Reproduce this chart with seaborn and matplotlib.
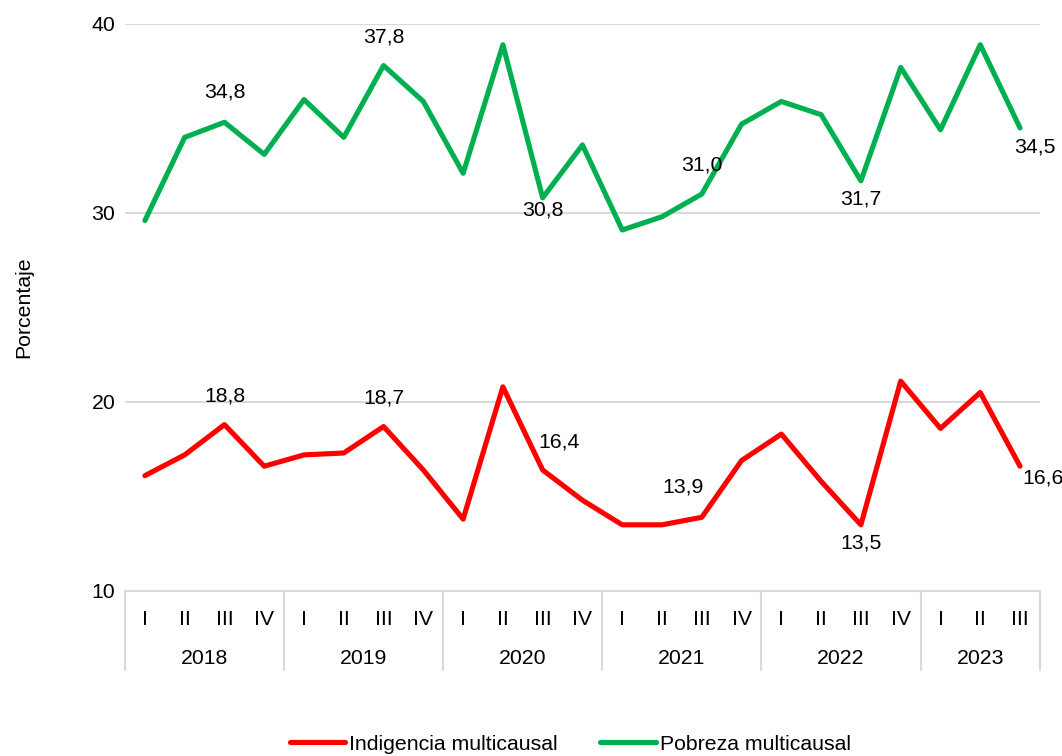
import pandas as pd
import seaborn as sns
import matplotlib.pyplot as plt

# Data
years = ['2018', '2019', '2020', '2021', '2022', '2023']
quarters = ['I', 'II', 'III', 'IV'] * 5 + ['I', 'II', 'III']
indigencia = [16.1, 17.2, 18.8, 16.6, 17.2, 17.3, 18.7, 16.4,
              13.8, 20.8, 16.4, 14.8, 13.5, 13.5, 13.9, 16.9,
              18.3, 15.8, 13.5, 21.1, 18.6, 20.5, 16.6]
pobreza = [29.6, 34.0, 34.8, 33.1, 36.0, 34.0, 37.8, 35.9,
           32.1, 38.9, 30.8, 33.6, 29.1, 29.8, 31.0, 34.7,
           35.9, 35.2, 31.7, 37.7, 34.4, 38.9, 34.5]
series_names = ['Indigencia multicausal', 'Pobreza multicausal']
colors = ['#FF0000', '#00B050']

# which points carry a data label, and where the label sits (pixels)
ind_labels = {2: (0, 29), 6: (0, 29), 10: (16, 28), 14: (-19, 30), 18: (0, -18), 22: (23, -12)}
pob_labels = {2: (0, 30), 6: (0, 29), 10: (0, -12), 14: (0, 29), 18: (0, -18), 22: (15, -19)}

n = len(quarters)
df = pd.DataFrame({
    'idx': list(range(n)) * 2,
    'valor': indigencia + pobreza,
    'serie': [series_names[0]] * n + [series_names[1]] * n,
})

fs = 15.3
sns.set_theme(style='white')
plt.rcParams['font.family'] = ['Liberation Sans', 'DejaVu Sans']
plt.rcParams['font.size'] = fs
plt.rcParams['text.color'] = 'black'
plt.rcParams['ytick.color'] = 'black'
plt.rcParams['axes.labelcolor'] = 'black'

fig = plt.figure(figsize=(10.62, 7.56), dpi=100)
ax = fig.add_axes([0.1177, 0.2183, 0.8615, 0.7500])

sns.lineplot(data=df, x='idx', y='valor', hue='serie', palette=colors,
             linewidth=3.7, ax=ax)

ax.set_xlim(-0.5, n - 0.5)
ax.set_ylim(10, 40)
ax.set_yticks([10, 20, 30, 40])
ax.yaxis.grid(True, color='#d9d9d9', linewidth=1.5)
ax.set_axisbelow(True)
for s in ['top', 'right', 'left']:
    ax.spines[s].set_visible(False)
ax.spines['bottom'].set_color('#d9d9d9')
ax.spines['bottom'].set_linewidth(1.5)
ax.tick_params(axis='y', length=0, pad=7, labelsize=fs)
ax.set_xticks([])
ax.set_xlabel('')
ax.set_ylabel('Porcentaje', fontsize=fs, labelpad=42)

# data labels
for vals, labs in [(indigencia, ind_labels), (pobreza, pob_labels)]:
    for i, off in labs.items():
        ax.annotate(f'{vals[i]:.1f}'.replace('.', ','), xy=(i, vals[i]),
                    xytext=off, textcoords='offset pixels',
                    ha='center', va='center', fontsize=fs)

# two level category axis
trans = ax.get_xaxis_transform()
for i, q in enumerate(quarters):
    ax.annotate(q, xy=(i, 0), xycoords=trans, xytext=(0, -29),
                textcoords='offset pixels', ha='center', va='center', fontsize=fs)
start = 0
for y in years:
    cnt = 4 if y != '2023' else 3
    ax.annotate(y, xy=(start + (cnt - 1) / 2, 0), xycoords=trans, xytext=(0, -68),
                textcoords='offset pixels', ha='center', va='center', fontsize=fs)
    start += cnt
seps = [-0.5, 3.5, 7.5, 11.5, 15.5, 19.5, 22.5]
for s in seps:
    ax.plot([s, s], [0, -79 / 567], transform=trans, color='#d9d9d9',
            linewidth=1.5, clip_on=False)

handles, labels = ax.get_legend_handles_labels()
ax.legend(handles, labels, loc='lower center', bbox_to_anchor=(0.537, 0.0),
          bbox_transform=fig.transFigure, ncol=2, frameon=False,
          handlelength=2.6, handletextpad=0.2, columnspacing=2.0,
          fontsize=fs, borderaxespad=0.05, borderpad=0.05)

plt.savefig('out.png', dpi=100)
